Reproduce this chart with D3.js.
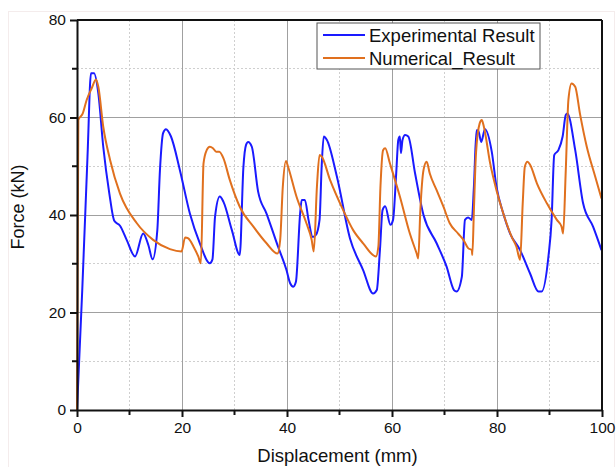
<!DOCTYPE html>
<meta charset="utf-8">
<style>
body{
    margin:0;
    background:#fff;
}
svg text{
    font-family:"Liberation Sans", Arial, sans-serif;
    fill:#111;
}
.grid-major line{
    stroke:#a0a0a0;
    stroke-width:1px;
    shape-rendering:crispEdges;
}
.grid-minor line{
    stroke:#cfcfcf;
    stroke-width:1px;
    stroke-dasharray:2,2;
    shape-rendering:crispEdges;
}
.axis path, .axis line{
    stroke:#111;
    stroke-width:2px;
}
.series{
    fill:none;
    stroke-width:2px;
    stroke-linejoin:round;
}
</style>
<body>
<script src="https://cdn.jsdelivr.net/npm/d3@7"></script>
<script>
// displacement (mm) / force (kN)
var expX = [0, 1.0, 2.0, 2.67, 3.24, 4.06, 5.0, 6.16, 7.1, 8.19, 9.46, 11.05, 12.6, 13.6, 14.4, 15.3, 15.8, 16.4, 16.95, 17.9, 19.6, 21.5, 23.4, 25.3, 25.8, 26.3, 27.2, 27.9, 29.5, 31.0, 31.7, 32.2, 32.6, 33.3, 34.5, 36.1, 38.3, 39.9, 40.6, 41.2, 41.7, 42.5, 42.8, 43.4, 44.1, 44.9, 45.5, 46.2, 46.6, 47.0, 47.6, 49.5, 52.0, 54.5, 56.4, 57.1, 57.7, 58.2, 58.7, 59.7, 60.2, 60.8, 61.2, 61.5, 61.7, 62.0, 62.5, 63.1, 64.4, 66.0, 68.5, 70.4, 71.8, 72.3, 73.3, 73.9, 74.5, 75.2, 75.6, 76.1, 76.4, 77.0, 77.7, 79.0, 79.9, 81.2, 82.5, 84.4, 86.3, 87.9, 88.5, 89.8, 90.4, 90.9, 91.7, 92.5, 93.1, 93.4, 94.9, 96.4, 98.3, 99.9];
var expY = [0, 24.6, 52, 69.1, 69.1, 65, 54, 44.4, 38.8, 37.8, 34.9, 31.5, 36.2, 33.8, 30.9, 36.9, 49.2, 56.8, 57.6, 56.1, 49.2, 40.3, 34.2, 30.1, 30.9, 39.7, 43.8, 42.7, 36.9, 31.8, 49.9, 54.4, 55.0, 54.0, 44.8, 40.3, 33.5, 28.7, 26.0, 25.3, 26.3, 40.3, 43.1, 43.1, 39.0, 35.5, 35.9, 39.0, 49.9, 56.1, 55.4, 47.9, 35.2, 28.7, 23.9, 24.6, 32.8, 41.0, 41.8, 38.0, 39.0, 48.5, 55.4, 56.1, 52.7, 55.4, 56.4, 56.1, 48.5, 40.0, 34.2, 29.4, 24.6, 24.3, 27.3, 39.0, 39.5, 39.0, 45.8, 57.4, 57.4, 55.0, 57.6, 53.0, 45.8, 40.3, 36.2, 32.8, 28.0, 24.3, 24.3, 31.5, 39.0, 52.3, 53.3, 56.1, 60.5, 60.8, 53.3, 42.4, 37.6, 32.8];

var numX = [0, 0.25, 1.08, 1.84, 2.8, 3.62, 4.06, 5.0, 6.3, 8.19, 11.4, 14.5, 17.7, 19.9, 20.6, 21.2, 22.2, 23.1, 23.6, 24.1, 24.7, 25.3, 25.9, 26.5, 27.1, 27.9, 29.1, 31.0, 33.6, 36.1, 38.2, 38.7, 39.2, 39.8, 40.2, 41.8, 43.7, 44.7, 45.1, 45.7, 46.2, 46.6, 48.2, 50.7, 52.6, 54.5, 56.95, 57.4, 57.8, 58.3, 58.7, 59.6, 61.5, 63.4, 64.7, 65.0, 65.4, 66.0, 66.6, 67.2, 68.5, 69.8, 71.0, 72.6, 73.6, 74.5, 75.2, 75.3, 75.6, 76.0, 76.7, 77.1, 77.5, 78.7, 79.9, 81.2, 82.8, 83.7, 84.4, 84.9, 85.3, 85.8, 86.3, 87.6, 89.5, 91.4, 92.3, 92.6, 93.1, 93.6, 94.2, 94.9, 95.8, 97.1, 98.7, 99.9];
var numY = [0, 59.5, 60.8, 63.6, 66.0, 67.8, 66.3, 58.1, 51.3, 44.4, 38.3, 34.9, 33.0, 32.5, 35.4, 35.2, 33.5, 31.5, 30.1, 50.6, 53.3, 54.0, 53.7, 53.0, 53.0, 51.6, 47.2, 41.7, 37.6, 34.2, 32.1, 34.9, 45.8, 51.1, 49.9, 43.8, 38.3, 34.9, 32.5, 45.8, 52.3, 52.0, 47.2, 41.0, 36.9, 34.2, 31.5, 33.5, 45.8, 53.3, 53.7, 50.6, 43.8, 36.2, 32.1, 31.1, 41.0, 49.2, 50.9, 48.5, 45.1, 41.7, 38.3, 36.2, 34.9, 33.2, 32.8, 31.8, 41.0, 52.7, 58.8, 59.5, 58.1, 50.6, 45.1, 40.3, 35.5, 33.5, 30.8, 42.4, 49.9, 50.9, 50.3, 46.5, 42.4, 39.0, 37.6, 36.2, 49.2, 63.6, 67.0, 66.3, 60.8, 54.0, 47.9, 43.4];

var xTicks = [0, 20, 40, 60, 80, 100];
var yTicks = [0, 20, 40, 60, 80];
var xMinor = [10, 30, 50, 70, 90];
var yMinor = [10, 30, 50, 70];

var seriesNames = ["Experimental Result", "Numerical_Result"];
var seriesColors = ["#1a1aff", "#e0701e"];

var svgW = 616, svgH = 467;
var margin = {left:77, right:14, top:20, bottom:57};
var w = svgW - margin.left - margin.right, h = svgH - margin.top - margin.bottom;

var svg = d3.select("body").append("svg").attr("width", svgW).attr("height", svgH);

// faint outer frame of the exported picture
svg.append("rect").attr("x", 8.5).attr("y", 11.5).attr("width", svgW - 10).attr("height", svgH - 8)
    .attr("fill", "none").attr("stroke", "#f4ecec");

var g = svg.append("g").attr("transform", "translate(" + margin.left + "," + margin.top + ")");

var x = d3.scaleLinear().domain([0, 100]).range([0, w]);
var y = d3.scaleLinear().domain([0, 80]).range([h, 0]);

// grid
var minorG = g.append("g").attr("class", "grid-minor");
minorG.selectAll(".vx").data(xMinor).enter().append("line")
    .attr("x1", function(d){ return x(d);}).attr("x2", function(d){ return x(d);})
    .attr("y1", 0).attr("y2", h);
minorG.selectAll(".hy").data(yMinor).enter().append("line")
    .attr("y1", function(d){ return y(d);}).attr("y2", function(d){ return y(d);})
    .attr("x1", 0).attr("x2", w);

var majorG = g.append("g").attr("class", "grid-major");
majorG.selectAll(".vx").data(xTicks.slice(1, -1)).enter().append("line")
    .attr("x1", function(d){ return x(d);}).attr("x2", function(d){ return x(d);})
    .attr("y1", 0).attr("y2", h);
majorG.selectAll(".hy").data(yTicks.slice(1, -1)).enter().append("line")
    .attr("y1", function(d){ return y(d);}).attr("y2", function(d){ return y(d);})
    .attr("x1", 0).attr("x2", w);

// data lines
var line = d3.line()
    .curve(d3.curveMonotoneX)
    .x(function(d){ return x(d[0]);})
    .y(function(d){ return y(d[1]);});

var series = [d3.zip(expX, expY), d3.zip(numX, numY)];
g.selectAll(".series").data(series).enter().append("path")
    .attr("class", "series")
    .attr("stroke", function(d, i){ return seriesColors[i];})
    .attr("d", line);

// frame (top and right)
g.append("line").attr("x1", 0).attr("x2", w).attr("y1", 0).attr("y2", 0)
    .attr("stroke", "#111").attr("stroke-width", 2);
g.append("line").attr("x1", w).attr("x2", w).attr("y1", 0).attr("y2", h)
    .attr("stroke", "#111").attr("stroke-width", 2);

// axes
var xAxis = g.append("g").attr("class", "axis").attr("transform", "translate(0," + h + ")")
    .call(d3.axisBottom(x).tickValues(xTicks).tickSize(7).tickSizeOuter(0).tickPadding(5));
xAxis.selectAll(".minor").data(xMinor).enter().append("line").attr("class", "minor")
    .attr("x1", function(d){ return x(d);}).attr("x2", function(d){ return x(d);})
    .attr("y1", 0).attr("y2", 5);

var yAxis = g.append("g").attr("class", "axis")
    .call(d3.axisLeft(y).tickValues(yTicks).tickSize(7).tickSizeOuter(0).tickPadding(4));
yAxis.selectAll(".minor").data(yMinor).enter().append("line").attr("class", "minor")
    .attr("y1", function(d){ return y(d);}).attr("y2", function(d){ return y(d);})
    .attr("x1", 0).attr("x2", -5);

g.selectAll(".axis text").style("font-size", "15.5px").style("font-family", "'Liberation Sans', Arial, sans-serif").attr("fill", "#111");

// axis titles
svg.append("text").attr("x", margin.left + w / 2 - 2).attr("y", 462)
    .attr("text-anchor", "middle").style("font-size", "18.5px").text("Displacement (mm)");
svg.append("text").attr("transform", "translate(24," + (margin.top + h / 2 - 8) + ") rotate(-90)")
    .attr("text-anchor", "middle").style("font-size", "18px").text("Force (kN)");

// legend
var leg = svg.append("g").attr("transform", "translate(317,23)");
leg.append("rect").attr("width", 223).attr("height", 46)
    .attr("fill", "#fff").attr("stroke", "#555").attr("stroke-width", 1);
seriesNames.forEach(function(name, i){
    var row = leg.append("g").attr("transform", "translate(0," + (12 + i * 23) + ")");
    row.append("line").attr("x1", 6).attr("x2", 48).attr("y1", 0).attr("y2", 0)
        .attr("stroke", seriesColors[i]).attr("stroke-width", 2);
    row.append("text").attr("x", 52).attr("y", 6.5).style("font-size", "18.5px").text(name);
});
</script>
